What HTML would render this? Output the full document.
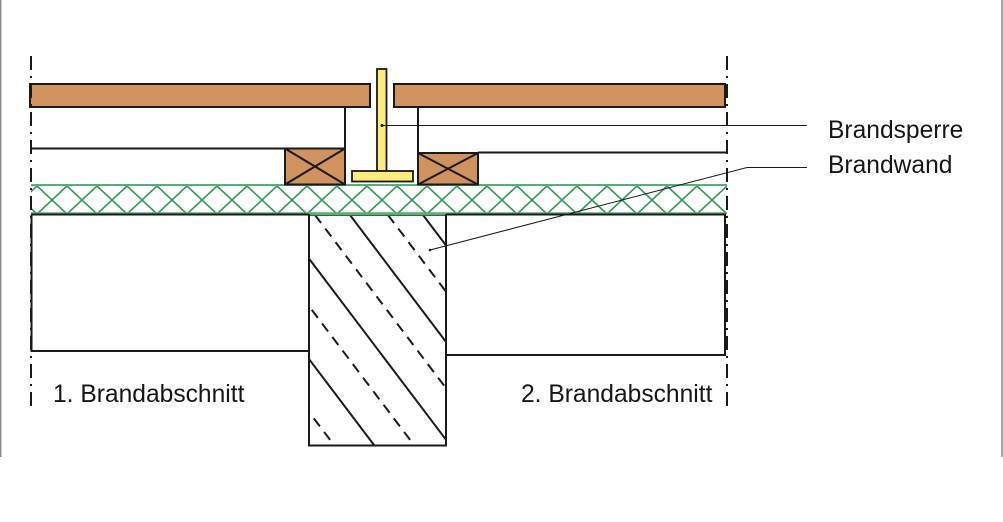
<!DOCTYPE html>
<html><head><meta charset="utf-8"><style>
html,body{margin:0;padding:0;background:#fff;}
svg{display:block;}
text{font-family:"Liberation Sans",Arial,sans-serif;font-size:24.6px;fill:#161616;}
</style></head><body>
<svg width="1003" height="522" viewBox="0 0 1003 522" xmlns="http://www.w3.org/2000/svg">
<defs>
<clipPath id="band"><rect x="31" y="186" width="696" height="28"/></clipPath>
<clipPath id="wall"><rect x="310" y="215" width="135" height="230"/></clipPath>
</defs>
<!-- gray frame lines -->
<line x1="0.7" y1="0" x2="0.7" y2="457" stroke="#8a8a8a" stroke-width="1.5"/>
<line x1="1002" y1="0" x2="1002" y2="457" stroke="#8a8a8a" stroke-width="1.5"/>

<!-- green band -->
<g clip-path="url(#band)" stroke="#2f9a55" stroke-width="1.6" fill="none">
<path d="M7 186 L37 214 M37 186 L67 214 M67 186 L97 214 M97 186 L127 214 M127 186 L157 214 M157 186 L187 214 M187 186 L217 214 M217 186 L247 214 M247 186 L277 214 M277 186 L307 214 M307 186 L337 214 M337 186 L367 214 M367 186 L397 214 M397 186 L427 214 M427 186 L457 214 M457 186 L487 214 M487 186 L517 214 M517 186 L547 214 M547 186 L577 214 M577 186 L607 214 M607 186 L637 214 M637 186 L667 214 M667 186 L697 214 M697 186 L727 214 M727 186 L757 214"/>
<path d="M37 186 L7 214 M67 186 L37 214 M97 186 L67 214 M127 186 L97 214 M157 186 L127 214 M187 186 L157 214 M217 186 L187 214 M247 186 L217 214 M277 186 L247 214 M307 186 L277 214 M337 186 L307 214 M367 186 L337 214 M397 186 L367 214 M427 186 L397 214 M457 186 L427 214 M487 186 L457 214 M517 186 L487 214 M547 186 L517 214 M577 186 L547 214 M607 186 L577 214 M637 186 L607 214 M667 186 L637 214 M697 186 L667 214 M727 186 L697 214 M757 186 L727 214"/>
</g>
<line x1="31" y1="185" x2="727" y2="185" stroke="#5aae75" stroke-width="2"/>
<line x1="31" y1="213" x2="727" y2="213" stroke="#5aae75" stroke-width="1.5"/>
<line x1="31" y1="214.5" x2="309" y2="214.5" stroke="#1a1a1a" stroke-width="2"/>
<line x1="446" y1="214.5" x2="726" y2="214.5" stroke="#1a1a1a" stroke-width="2"/>

<!-- lower boxes -->
<path d="M31.5 215 L31.5 351 L309 351" fill="none" stroke="#1a1a1a" stroke-width="2"/>
<path d="M446 355 L725 355 L725 215" fill="none" stroke="#1a1a1a" stroke-width="2"/>

<!-- wall hatching -->
<g clip-path="url(#wall)" stroke="#1a1a1a" stroke-width="2" fill="none">
<path d="M423 215 L597 445 M350 215 L524 445 M276 215 L450 445 M200 215 L374 445 M126 215 L300 445"/>
<path stroke-dasharray="10 7" d="M388 215 L562 445 M315 215 L489 445 M240 215 L414 445 M160 215 L334 445"/>
</g>
<rect x="309" y="215" width="137" height="230.5" fill="none" stroke="#1a1a1a" stroke-width="2"/>
<line x1="310" y1="214.5" x2="445" y2="214.5" stroke="#5aae75" stroke-width="2"/>

<!-- horizontal lines to blocks -->
<line x1="31" y1="148.5" x2="285" y2="148.5" stroke="#1a1a1a" stroke-width="2"/>
<line x1="478" y1="152.5" x2="727" y2="152.5" stroke="#1a1a1a" stroke-width="2"/>
<!-- vertical lines -->
<line x1="345" y1="107" x2="345" y2="149" stroke="#1a1a1a" stroke-width="2"/>
<line x1="418" y1="107" x2="418" y2="153" stroke="#1a1a1a" stroke-width="2"/>

<!-- blocks -->
<g stroke="#1a1a1a" stroke-width="2">
<rect x="285" y="148.5" width="60" height="36" fill="#d0925f"/>
<line x1="285" y1="148.5" x2="345" y2="184.5"/><line x1="345" y1="148.5" x2="285" y2="184.5"/>
<rect x="418" y="153" width="60" height="31.5" fill="#d0925f"/>
<line x1="418" y1="153" x2="478" y2="184.5"/><line x1="478" y1="153" x2="418" y2="184.5"/>
</g>

<!-- boards -->
<rect x="30" y="84" width="340" height="23" fill="#d0925f" stroke="#1a1a1a" stroke-width="2"/>
<rect x="394" y="84" width="331" height="23" fill="#d0925f" stroke="#1a1a1a" stroke-width="2"/>

<!-- T profile -->
<g fill="#fbec7c" stroke="#1a1a1a" stroke-width="1.8">
<rect x="377" y="69" width="9.5" height="102"/>
<rect x="352" y="171" width="61" height="10.5"/>
</g>

<!-- dash-dot axis lines -->
<g stroke="#1a1a1a" stroke-width="2" stroke-dasharray="14 6 2 6" fill="none">
<line x1="31" y1="56" x2="31" y2="408"/>
<line x1="727" y1="56" x2="727" y2="408"/>
</g>

<!-- leaders -->
<g stroke="#1a1a1a" stroke-width="1" fill="none">
<line x1="382" y1="125.5" x2="807" y2="125.5"/>
<polyline points="430,250 747,167.5 807,167.5"/>
</g>
<circle cx="382" cy="125.5" r="1.5" fill="#1a1a1a"/>
<circle cx="430" cy="250" r="1.3" fill="#1a1a1a"/>

<!-- labels -->
<text x="828" y="138">Brandsperre</text>
<text x="828" y="173">Brandwand</text>
<text x="53" y="402">1. Brandabschnitt</text>
<text x="521" y="402">2. Brandabschnitt</text>
</svg>
</body></html>
